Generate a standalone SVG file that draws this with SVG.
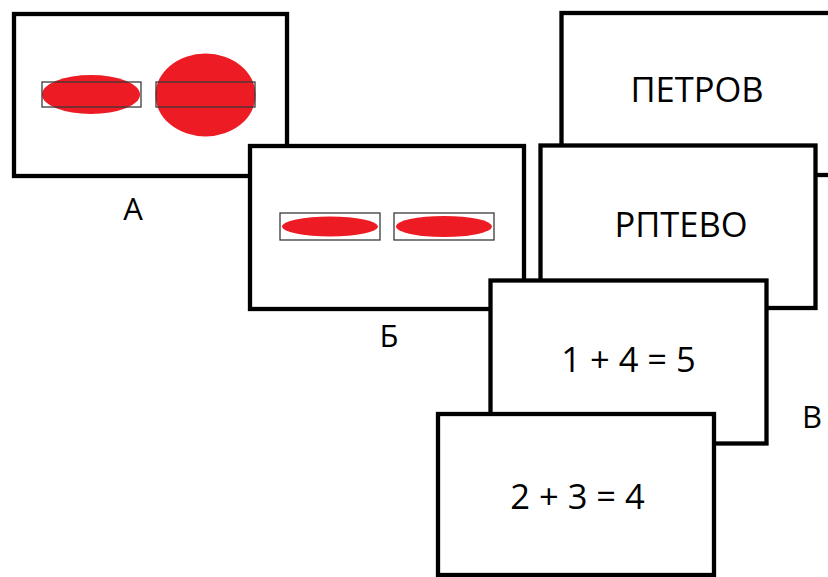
<svg xmlns="http://www.w3.org/2000/svg" width="828" height="577" viewBox="0 0 828 577">
  <style>
    .card { fill: #ffffff; stroke: #000000; stroke-width: 4.3; }
    .frame { fill: none; stroke: #3a3a3a; stroke-width: 1.3; }
    .blob { fill: #ed1c24; }
    .big { font-family: "Open Sans", "Liberation Sans", sans-serif; font-size: 34.5px; fill: #000000; text-anchor: middle; }
    .label { font-family: "Open Sans", "Liberation Sans", sans-serif; font-size: 31px; fill: #000000; text-anchor: middle; }
  </style>
  <rect width="828" height="577" fill="#ffffff"/>

  <!-- column В, back card -->
  <g id="card-petrov">
    <rect class="card" x="561.5" y="13" width="300" height="162"/>
    <text class="big" x="697" y="102">ПЕТРОВ</text>
  </g>

  <!-- column А -->
  <g id="card-a">
    <rect class="card" x="14" y="14" width="273" height="162"/>
    <ellipse class="blob" cx="91" cy="94.5" rx="49" ry="19.5"/>
    <ellipse class="blob" cx="205.5" cy="95" rx="50" ry="41.5"/>
    <rect class="frame" x="42" y="82" width="99" height="25"/>
    <rect class="frame" x="156" y="82" width="99" height="25"/>
  </g>
  <text id="label-a" class="label" x="133" y="220">А</text>

  <!-- column Б -->
  <g id="card-b">
    <rect class="card" x="250" y="146" width="274" height="163"/>
    <ellipse class="blob" cx="330" cy="226.5" rx="48" ry="10"/>
    <ellipse class="blob" cx="444" cy="226.5" rx="48" ry="10.5"/>
    <rect class="frame" x="280" y="213" width="100" height="27"/>
    <rect class="frame" x="394" y="213" width="100" height="27"/>
  </g>
  <text id="label-b" class="label" x="389" y="347">Б</text>

  <!-- column В, front cards -->
  <g id="card-rptevo">
    <rect class="card" x="540.5" y="145.5" width="275" height="162.5"/>
    <text class="big" x="681" y="237">РПТЕВО</text>
  </g>
  <g id="card-sum5">
    <rect class="card" x="490.5" y="280.5" width="276" height="163"/>
    <text class="big" x="628.5" y="372">1 + 4 = 5</text>
  </g>
  <g id="card-sum4">
    <rect class="card" x="438" y="414" width="276" height="161"/>
    <text class="big" x="577.5" y="509">2 + 3 = 4</text>
  </g>
  <text id="label-v" class="label" x="812" y="428">В</text>

  <g id="connectors"/>
</svg>
